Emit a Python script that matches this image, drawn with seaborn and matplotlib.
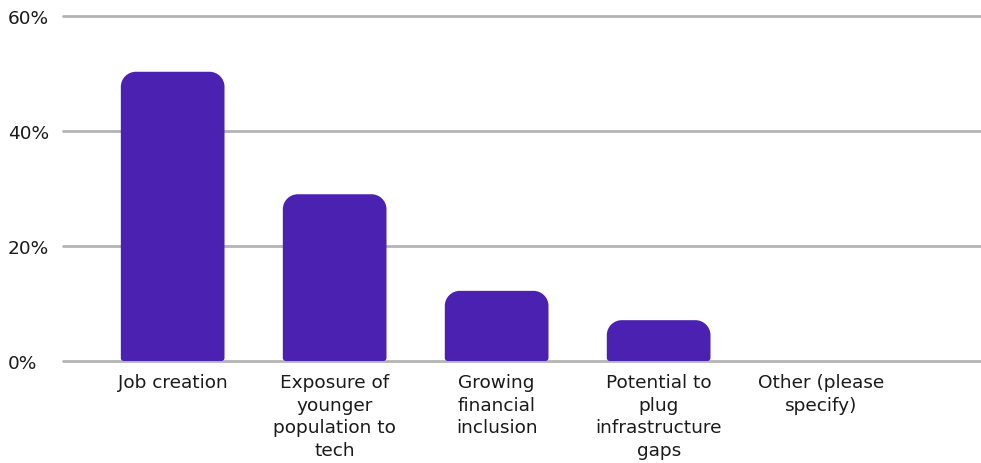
import matplotlib
matplotlib.use("Agg")
import matplotlib.pyplot as plt
from matplotlib.patches import PathPatch
from matplotlib.path import Path
import seaborn as sns
import pandas as pd

categories = [
    "Job creation",
    "Exposure of\nyounger\npopulation to\ntech",
    "Growing\nfinancial\ninclusion",
    "Potential to\nplug\ninfrastructure\ngaps",
    "Other (please\nspecify)",
]
shares = [50.3, 29.0, 12.2, 7.1, 0.0]
y_ticks = [0, 20, 40, 60]
y_tick_labels = ["0%", "20%", "40%", "60%"]

BAR_COLOR = "#4a21b0"
GRID_COLOR = "#b4b4b4"
TEXT_COLOR = "#1a1a1a"

sns.set_theme(style="white")
plt.rcParams["font.family"] = ["DejaVu Sans"]

W, H = 981, 464
fig = plt.figure(figsize=(W / 100, H / 100), dpi=100)
ax_left, ax_right = 63, 981
ax_top, ax_bottom = 17, 362
ax = fig.add_axes([ax_left / W, (H - ax_bottom) / H,
                   (ax_right - ax_left) / W, (ax_bottom - ax_top) / H])

df = pd.DataFrame({"category": categories, "share": shares})
sns.barplot(data=df, x="category", y="share", color=BAR_COLOR,
            width=0.64, saturation=1, ax=ax, zorder=3)

xlim = (-0.677, 4.99)
ylim = (0, 60)
ax.set_xlim(*xlim)
ax.set_ylim(*ylim)

# data units per pixel, so corners stay circular on screen
ux = (xlim[1] - xlim[0]) / (ax_right - ax_left)
uy = (ylim[1] - ylim[0]) / (ax_bottom - ax_top)
K = 0.5523


def rounded_bar(x, y, w, h, top_px=15, bottom_px=3):
    rtx, rty = top_px * ux, min(top_px * uy, h / 2)
    rbx, rby = bottom_px * ux, min(bottom_px * uy, h / 2)
    x1, y1 = x + w, y + h
    verts = [
        (x, y + rby),
        (x, y1 - rty),
        (x, y1 - rty + K * rty), (x + rtx - K * rtx, y1), (x + rtx, y1),
        (x1 - rtx, y1),
        (x1 - rtx + K * rtx, y1), (x1, y1 - rty + K * rty), (x1, y1 - rty),
        (x1, y + rby),
        (x1, y + rby - K * rby), (x1 - rbx + K * rbx, y), (x1 - rbx, y),
        (x + rbx, y),
        (x + rbx - K * rbx, y), (x, y + rby - K * rby), (x, y + rby),
        (x, y + rby),
    ]
    codes = [Path.MOVETO, Path.LINETO,
             Path.CURVE4, Path.CURVE4, Path.CURVE4,
             Path.LINETO,
             Path.CURVE4, Path.CURVE4, Path.CURVE4,
             Path.LINETO,
             Path.CURVE4, Path.CURVE4, Path.CURVE4,
             Path.LINETO,
             Path.CURVE4, Path.CURVE4, Path.CURVE4,
             Path.CLOSEPOLY]
    return PathPatch(Path(verts, codes), facecolor=BAR_COLOR,
                     edgecolor="none", zorder=3)


for bar in list(ax.patches):
    x, y = bar.get_x(), bar.get_y()
    w, h = bar.get_width(), bar.get_height()
    bar.remove()
    if h > 0:
        ax.add_patch(rounded_bar(x, y, w, h))

for t in y_ticks:
    ax.axhline(t, color=GRID_COLOR, linewidth=2, zorder=1, clip_on=False)

for s in ax.spines.values():
    s.set_visible(False)

ax.set_yticks(y_ticks)
ax.set_yticklabels(y_tick_labels, ha="left")
ax.tick_params(axis="y", length=0, pad=55 * 0.72, labelsize=13.3,
               labelcolor=TEXT_COLOR)
ax.tick_params(axis="x", length=0, pad=9, labelsize=13.3,
               labelcolor=TEXT_COLOR)
for lbl in ax.get_xticklabels():
    lbl.set_linespacing(1.31)
ax.set_xlabel("")
ax.set_ylabel("")

fig.savefig("out.png", dpi=100, facecolor="white")
